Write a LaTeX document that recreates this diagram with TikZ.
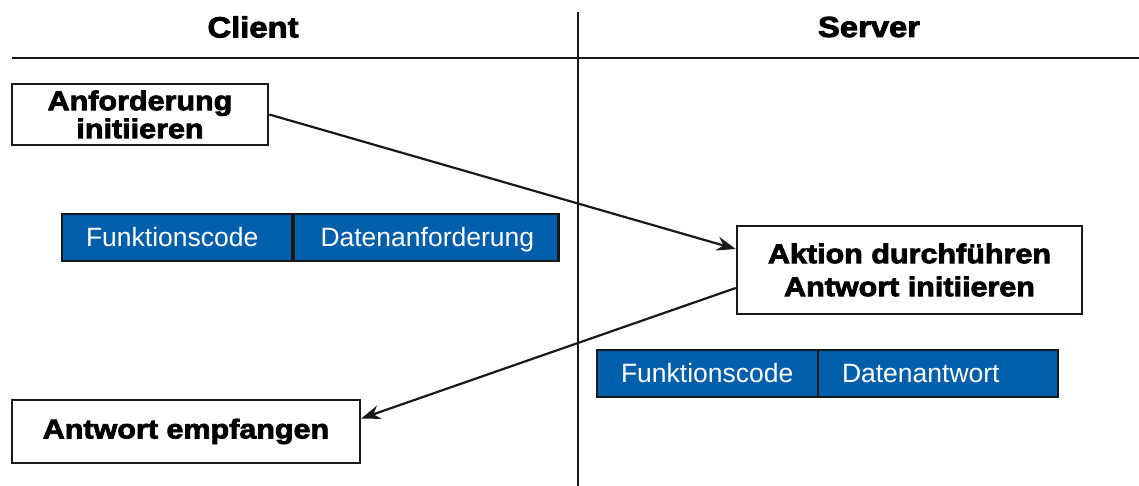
\documentclass[tikz,border=0pt]{standalone}
\usepackage{fontspec}
\setmainfont{Liberation Sans}
\newfontfamily\heavy[BoldFeatures={FakeBold=3,FakeStretch=1.13}]{Liberation Sans}
\usetikzlibrary{arrows.meta}
\definecolor{mblue}{RGB}{0,94,170}
\tikzset{
  lbl/.style={draw=black!90,line width=2.5pt,fill=white,align=center,inner sep=0pt,
    font=\heavy\bfseries\fontsize{27}{30}\selectfont},
  hdr/.style={inner sep=0pt,font=\heavy\bfseries\fontsize{29}{32}\selectfont},
  seg/.style={draw=black!90,line width=2.5pt,fill=mblue,text=white,inner ysep=0pt,inner xsep=24pt,
    minimum height=47pt,align=left,text height=21pt,text depth=3pt,font=\fontsize{26.5}{28}\selectfont},
  rule/.style={line width=2.5pt,draw=black!90},
  arr/.style={line width=2.2pt,draw=black!90,-{Stealth[length=19pt,width=14pt]}}
}
\begin{document}
\begin{tikzpicture}[x=1pt,y=-1pt]
\useasboundingbox (0,0) rectangle (1139,486);
% lines
\coordinate (hl) at (12,58);
\coordinate (hr) at (1139,58);
\coordinate (vt) at (578,12);
\coordinate (vb) at (578,486);
\draw[rule] (hl) -- (hr);
\draw[rule] (vt) -- (vb);
% headers
\node[hdr] (client) at (253,27) {Client};
\node[hdr] (server) at (869,27) {Server};
% boxes
\node[lbl,minimum width=256pt,minimum height=61pt,font=\heavy\bfseries\fontsize{27}{28}\selectfont] (b1) at (140,114.5) {Anforderung\\initiieren};
\node[lbl,minimum width=345pt,minimum height=88pt,font=\heavy\bfseries\fontsize{27}{33}\selectfont] (b2) at (909.5,270) {Aktion durchführen\\Antwort initiieren};
\node[lbl,minimum width=348pt,minimum height=63pt] (b3) at (186,431.5) {Antwort empfangen};
% request frame
\node[seg,text width=182pt] (rq1) at (177,237.5) {Funktionscode};
\node[seg,text width=211pt,inner xsep=27pt] (rq2) at (426,237.5) {Datenanforderung};
% response frame
\node[seg,text width=173pt] (rs1) at (707.5,373.5) {Funktionscode};
\node[seg,text width=192pt] (rs2) at (938,373.5) {Datenantwort};
% arrows
\draw[arr] (b1.east) -- ([yshift=21pt]b2.west);
\draw[arr] ([yshift=-18pt]b2.west) -- ([yshift=13pt]b3.east);
\end{tikzpicture}
\end{document}
